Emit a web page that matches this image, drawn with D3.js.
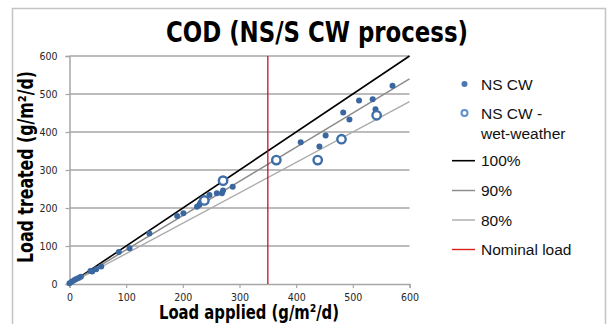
<!DOCTYPE html>
<html>
<head>
<meta charset="utf-8">
<script src="https://cdn.jsdelivr.net/npm/d3@7"></script>
<style>
  body { margin: 0; background: #fff; }
  svg { display: block; }
</style>
</head>
<body>
<svg id="chart" width="607" height="324"></svg>
<script>
// data (load applied, load treated)
const nsCw = [
  [0, 2], [4, 6], [8, 10], [12, 13], [16, 16], [20, 19],
  [37, 34], [40, 33], [47, 39], [56, 46], [87, 84], [106, 94],
  [141, 133], [190, 179], [201, 186], [225, 203], [229, 208], [231, 214],
  [247, 234], [260, 239], [269, 239], [271, 246], [288, 256],
  [408, 373], [441, 362], [452, 391], [483, 451], [494, 433],
  [511, 483], [535, 486], [540, 460], [570, 522]
];
const nsCwWet = [
  [238, 220], [271, 272], [365, 326], [438, 326], [480, 381], [542, 444]
];
const refLines = [
  { name: "100%", ratio: 1.0, color: "#000000", width: 1.6 },
  { name: "90%", ratio: 0.9, color: "#8c8c8c", width: 1.5 },
  { name: "80%", ratio: 0.8, color: "#ababab", width: 1.4 }
];
const nominalLoad = 350;
const xTicks = [0, 100, 200, 300, 400, 500, 600];
const yTicks = [0, 100, 200, 300, 400, 500, 600];

const svg = d3.select("#chart");
const sans = "'Liberation Sans', Arial, sans-serif";
const cond = "'DejaVu Sans Condensed', 'Liberation Sans', sans-serif";

// outer frame
svg.append("path")
  .attr("d", "M12.5,324 V8.5 H605.5 V324")
  .attr("fill", "none")
  .attr("stroke", "#c4c4c4")
  .attr("stroke-width", 1.5);

const plot = { left: 69.5, right: 409.5, top: 56, bottom: 284 };

const x = d3.scaleLinear().domain([0, 600]).range([plot.left, plot.right]);
const y = d3.scaleLinear().domain([0, 600]).range([plot.bottom, plot.top]);

// horizontal gridlines
svg.append("g")
  .selectAll("line")
  .data(yTicks.filter((d) => d > 0))
  .join("line")
  .attr("x1", plot.left)
  .attr("x2", plot.right)
  .attr("y1", (d) => y(d))
  .attr("y2", (d) => y(d))
  .attr("stroke", "#a6a6a6")
  .attr("stroke-width", 1.5);

// axes
const xAxis = svg.append("g")
  .attr("transform", `translate(0,${plot.bottom})`)
  .call(d3.axisBottom(x).tickValues(xTicks).tickSize(4).tickPadding(6));
const yAxis = svg.append("g")
  .attr("transform", `translate(${plot.left},0)`)
  .call(d3.axisLeft(y).tickValues(yTicks).tickSize(4).tickPadding(8));

[xAxis, yAxis].forEach((ax) => {
  ax.select(".domain").attr("stroke", "#a6a6a6").attr("stroke-width", 1.5);
  ax.selectAll(".tick line").attr("stroke", "#a6a6a6").attr("stroke-width", 1.2);
  ax.selectAll(".tick text")
    .attr("fill", "#262626")
    .style("font-family", cond)
    .style("font-size", "10.5px");
});

// reference lines
svg.append("g")
  .selectAll("line")
  .data(refLines)
  .join("line")
  .attr("x1", x(0))
  .attr("y1", y(0))
  .attr("x2", x(600))
  .attr("y2", (d) => y(600 * d.ratio))
  .attr("stroke", (d) => d.color)
  .attr("stroke-width", (d) => d.width);

// nominal load
svg.append("line")
  .attr("x1", x(nominalLoad))
  .attr("x2", x(nominalLoad))
  .attr("y1", y(0))
  .attr("y2", y(600))
  .attr("stroke", "#c8102e")
  .attr("stroke-width", 1.3);

// points
svg.append("g")
  .selectAll("circle")
  .data(nsCw)
  .join("circle")
  .attr("cx", (d) => x(d[0]))
  .attr("cy", (d) => y(d[1]))
  .attr("r", 3)
  .attr("fill", "#3a67a0");

svg.append("g")
  .selectAll("circle")
  .data(nsCwWet)
  .join("circle")
  .attr("cx", (d) => x(d[0]))
  .attr("cy", (d) => y(d[1]))
  .attr("r", 4.2)
  .attr("fill", "#fff")
  .attr("stroke", "#3f6ea8")
  .attr("stroke-width", 2.4);

// titles
function boldText(sel, size, len) {
  return sel
    .attr("text-anchor", "middle")
    .attr("textLength", len)
    .attr("lengthAdjust", "spacingAndGlyphs")
    .style("font-family", cond)
    .style("font-weight", "bold")
    .style("font-size", size + "px");
}

svg.append("text")
  .attr("x", 317)
  .attr("y", 42)
  .call(boldText, 29, 302)
  .text("COD (NS/S CW process)");

svg.append("text")
  .attr("x", 249)
  .attr("y", 319)
  .call(boldText, 20, 180)
  .text("Load applied (g/m²/d)");

svg.append("text")
  .attr("transform", "translate(33,167) rotate(-90)")
  .call(boldText, 20.5, 192)
  .text("Load treated (g/m²/d)");

// legend
const legend = svg.append("g")
  .style("font-family", sans)
  .style("font-size", "15.5px")
  .attr("fill", "#111");

legend.append("circle").attr("cx", 464.5).attr("cy", 84).attr("r", 3).attr("fill", "#4a78b5");
legend.append("text").attr("x", 481).attr("y", 89.5).text("NS CW");

legend.append("circle").attr("cx", 464.5).attr("cy", 113).attr("r", 3)
  .attr("fill", "#fff").attr("stroke", "#5b8fd0").attr("stroke-width", 2);
legend.append("text").attr("x", 481).attr("y", 118.5).text("NS CW -");
legend.append("text").attr("x", 481).attr("y", 138.5).text("wet-weather");

const lineRows = refLines.map((d, i) => ({ ...d, cy: [160.7, 190.5, 220][i] }))
  .concat([{ name: "Nominal load", color: "#d62020", width: 1.4, cy: 249.5 }]);

legend.selectAll("line")
  .data(lineRows)
  .join("line")
  .attr("x1", 452)
  .attr("x2", 475)
  .attr("y1", (d) => d.cy)
  .attr("y2", (d) => d.cy)
  .attr("stroke", (d) => d.color)
  .attr("stroke-width", (d) => d.width);

legend.selectAll("text.row")
  .data(lineRows)
  .join("text")
  .attr("class", "row")
  .attr("x", 481)
  .attr("y", (d) => d.cy + 5.5)
  .text((d) => d.name);
</script>
</body>
</html>
